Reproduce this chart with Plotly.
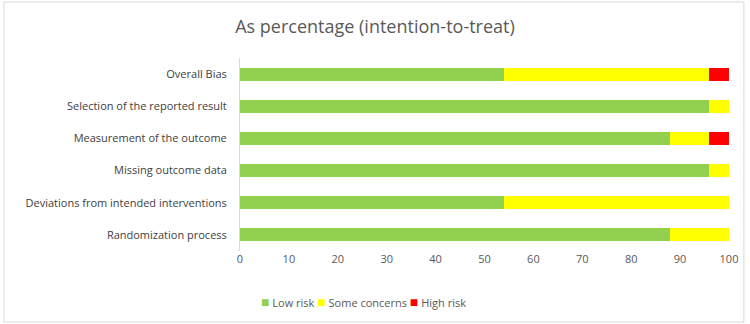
import plotly.graph_objects as go

domains = ["Randomization process", "Deviations from intended interventions", "Missing outcome data",
           "Measurement of the outcome", "Selection of the reported result", "Overall Bias"]
low_risk = [88, 54, 96, 88, 96, 54]
some_concerns = [12, 46, 4, 8, 4, 42]
high_risk = [0, 0, 0, 4, 0, 4]
x_ticks = [0, 10, 20, 30, 40, 50, 60, 70, 80, 90, 100]
series = [("Low risk", low_risk, "#92d050"),
          ("Some concerns", some_concerns, "#ffff00"),
          ("High risk", high_risk, "#ff0000")]

W, H = 750, 324
L, R, T, B = 240, 17, 58, 73
pw, ph = W - L - R, H - T - B

fig = go.Figure()
for name, vals, col in series:
    fig.add_trace(go.Bar(y=domains, x=vals, name=name, orientation="h",
                         marker=dict(color=col, line=dict(width=0)), width=0.4))

legend_text = " ".join(
    f"<span style='color:{col};font-size:14px'>■</span> {name}" for name, _, col in series)

fig.update_layout(
    width=W, height=H, barmode="stack",
    margin=dict(l=L, r=R, t=T, b=B),
    paper_bgcolor="white", plot_bgcolor="white",
    font=dict(family="Open Sans, Noto Sans, sans-serif", size=11, color="#404040"),
    title=dict(text="As percentage (intention-to-treat)", x=0.5, xanchor="center",
               y=1 - 27 / H, yanchor="middle",
               font=dict(size=18, color="#595959")),
    xaxis=dict(range=[0, 100], tickvals=x_ticks, showgrid=False, zeroline=False,
               showline=False, ticks="", tickfont=dict(size=11, color="#595959")),
    yaxis=dict(type="category", showgrid=False, showline=True, linecolor="#d9d9d9",
               linewidth=1, ticks="", ticklabelstandoff=10,
               tickfont=dict(size=11, color="#404040")),
    showlegend=False,
    annotations=[dict(text=legend_text, xref="paper", yref="paper",
                      x=(259 - L) / pw, xanchor="left",
                      y=-(301 - (T + ph)) / ph, yanchor="middle",
                      showarrow=False, font=dict(size=11, color="#595959"))],
    shapes=[dict(type="rect", xref="paper", yref="paper",
                 x0=(2 - L) / pw, x1=(748 - L) / pw,
                 y0=-(322 - (T + ph)) / ph, y1=(T + ph - 2) / ph,
                 line=dict(color="#d9d9d9", width=1), fillcolor="rgba(0,0,0,0)",
                 layer="below")],
)

fig.write_html("out.html", config={"displayModeBar": False},
               post_script="document.body.style.margin='0';document.body.style.overflow='hidden';")
